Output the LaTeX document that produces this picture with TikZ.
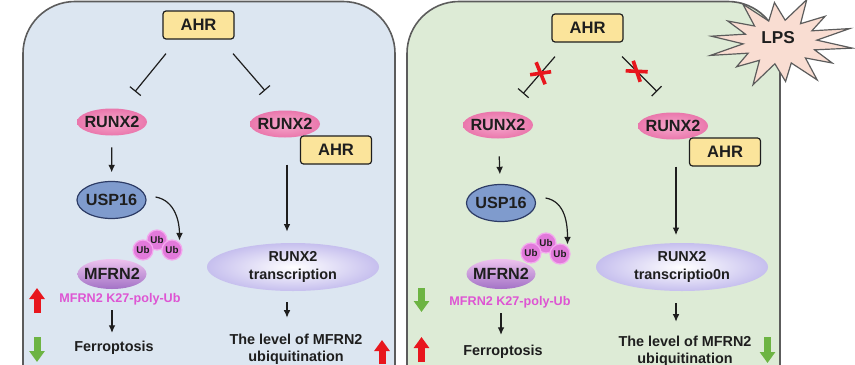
\documentclass[tikz,border=0pt]{standalone}
\usepackage{fontspec}
\setmainfont{Liberation Sans}
\usetikzlibrary{arrows.meta,calc,shapes.geometric}
\definecolor{hblau}{HTML}{DCE6F1}
\definecolor{hgruen}{HTML}{DDEBD6}
\definecolor{rand}{HTML}{5C5C5C}
\definecolor{grau}{HTML}{1E1E1E}
\definecolor{gelb}{HTML}{FBE49B}
\definecolor{rosa}{HTML}{EA77AC}
\definecolor{rosal}{HTML}{F6A9CD}
\definecolor{blau}{HTML}{7F9BCD}
\definecolor{blaud}{HTML}{2D3C66}
\definecolor{lila}{HTML}{A372C6}
\definecolor{lilal}{HTML}{EDC3EE}
\definecolor{ubrosa}{HTML}{E27ADB}
\definecolor{ubrand}{HTML}{F3A8EE}
\definecolor{magentat}{HTML}{DE55D3}
\definecolor{lav}{HTML}{C6BFEE}
\definecolor{rot}{HTML}{E8161D}
\definecolor{gruen}{HTML}{6DB443}
\definecolor{sternf}{HTML}{F9DDD2}
\tikzset{
  panel/.style={draw=rand,line width=0.8pt,rounded corners=26pt},
  kasten/.style={rectangle,rounded corners=1.5pt,draw=grau,line width=0.6pt,fill=gelb,
    minimum width=35.5pt,minimum height=14pt,inner sep=0pt,text=grau,
    font=\bfseries\fontsize{8.3}{9}\selectfont},
  oval/.style={ellipse,inner xsep=-12pt,inner ysep=-6pt,text=grau,
    font=\bfseries\fontsize{8.1}{9}\selectfont},
  runx/.style={oval,inner color=rosal,outer color=rosa,minimum width=35pt,minimum height=13.5pt},
  usp/.style={oval,fill=blau,draw=blaud,line width=0.6pt,minimum width=34.5pt,minimum height=18.5pt},
  mfrn/.style={oval,top color=lilal,bottom color=lila,minimum width=34.5pt,minimum height=15pt},
  ub/.style={circle,fill=ubrosa,draw=ubrand,line width=0.6pt,minimum size=10pt,inner sep=0pt,
    text=grau,font=\bfseries\fontsize{4.9}{5}\selectfont},
  trans/.style={oval,inner color=white,outer color=lav,minimum width=86pt,minimum height=24pt,
    align=center,font=\bfseries\fontsize{7.2}{8.6}\selectfont},
  txt/.style={text=grau,align=center,inner sep=1pt,font=\bfseries\fontsize{7.2}{8.6}\selectfont},
  k27/.style={text=magentat,inner sep=1pt,font=\bfseries\fontsize{6.3}{7}\selectfont},
  pf/.style={-{Latex[length=3.8pt,width=3.4pt]},grau,line width=0.6pt},
  hemm/.style={-{Bar[width=7pt,line width=0.6pt]},grau,line width=0.6pt},
  hoch/.style={rot,line width=3.5pt,-{Triangle[length=5.5pt,width=7.5pt]}},
  runter/.style={gruen,line width=3.5pt,-{Triangle[length=5.5pt,width=7.5pt]}},
  kreuz/.style={rot,line width=1.8pt},
  sternform/.style={fill=sternf,draw=rand,line width=0.6pt,line join=miter},
}
\begin{document}
\begin{tikzpicture}[x=0.5pt,y=-0.5pt]
  \useasboundingbox (0,0) rectangle (855,364);
  \clip (0,0) rectangle (855,364);
  % panels
  \draw[panel,fill=hblau] (23,1.5) rectangle (395,420);
  \draw[panel,fill=hgruen] (407,1.5) rectangle (780,420);
  % LPS
  \coordinate (lpsm) at (780,42);
  \draw[sternform] ($(lpsm)+(8:73 and 44)$) -- ($(lpsm)+(20.857:37 and 22)$)
    \foreach \k/\f in {1/0.86,2/1,3/0.9,4/1.04,5/0.82,6/1,7/0.95,8/0.86,9/1,10/0.9,11/1.03,12/0.85,13/1}
    { -- ($(lpsm)+({\k*25.714+8}:{73*\f} and {44*\f})$) -- ($(lpsm)+({\k*25.714+20.857}:37 and 22)$) } -- cycle;
  \node[txt,font=\bfseries\fontsize{8.6}{9}\selectfont] (lps) at (778,38) {LPS};

  % left panel
  \node[kasten] (ahr1) at (198.5,25) {AHR};
  \node[runx] (runx1) at (112,122) {RUNX2};
  \node[usp] (usp1) at (111.5,200) {USP16};
  \node[mfrn] (mfrn1) at (112,274) {MFRN2};
  \node[ub] (ub1b) at (157,240) {Ub};
  \node[ub] (ub1a) at (143,250) {Ub};
  \node[ub] (ub1c) at (172,250) {Ub};
  \node[k27] (k27a) at (120,299.5) {MFRN2 K27-poly-Ub};
  \node[txt] (ferro1) at (114,348) {Ferroptosis};
  \node[runx] (runxc1) at (285,124) {RUNX2};
  \node[kasten] (ahrc1) at (336,150) {AHR};
  \node[trans] (trans1) at (293,267) {RUNX2\\transcription};
  \node[txt] (level1) at (296,349) {The level of MFRN2\\ubiquitination};
  \draw[hemm] ($(ahr1.south)+(-32.5,14)$) -- ($(runx1.north)+(23,-16.5)$);
  \draw[hemm] ($(ahr1.south)+(34.5,14)$) -- ($(runxc1.north)+(-20,-19.5)$);
  \draw[pf,shorten <=5.75pt,shorten >=4.25pt] (runx1) -- (usp1);
  \draw[pf,shorten >=1pt] ($(usp1.east)+(9,-3)$) to[out=-10,in=90] (ub1c.north east);
  \draw[pf,shorten <=1.3pt,shorten >=3pt] (mfrn1 |- k27a.south) -- (mfrn1 |- ferro1.north);
  \draw[pf,shorten >=5.5pt] ([xshift=1pt]runxc1 |- ahrc1.south) -- ([xshift=1pt]runxc1 |- trans1.north);
  \draw[pf,shorten <=5.5pt,shorten >=6.8pt] ([xshift=1pt]runxc1 |- trans1.south) -- ([xshift=1pt]runxc1 |- level1.north);
  \draw[hoch] (37,313) -- (37,288);
  \draw[runter] (37,337) -- (37,362);
  \draw[hoch] (382,364) -- (382,340);

  % right panel
  \node[kasten] (ahr2) at (587.5,28) {AHR};
  \node[runx] (runx2) at (498,125) {RUNX2};
  \node[usp] (usp2) at (501,203) {USP16};
  \node[mfrn] (mfrn2) at (501,274) {MFRN2};
  \node[ub] (ub2b) at (546,243) {Ub};
  \node[ub] (ub2a) at (531,253) {Ub};
  \node[ub] (ub2c) at (560,254) {Ub};
  \node[k27] (k27b) at (510,302) {MFRN2 K27-poly-Ub};
  \node[txt] (ferro2) at (503,352) {Ferroptosis};
  \node[runx] (runxc2) at (673,126) {RUNX2};
  \node[kasten] (ahrc2) at (725,152) {AHR};
  \node[trans] (trans2) at (682,267) {RUNX2\\transcriptio0n};
  \node[txt] (level2) at (685,351) {The level of MFRN2\\ubiquitination};
  \draw[hemm] ($(ahr2.south)+(-32.5,14)$) -- coordinate[pos=0.45] (x1) ($(runx2.north)+(25,-17.5)$);
  \draw[hemm] ($(ahr2.south)+(34.5,14)$) -- coordinate[pos=0.42] (x2) ($(runxc2.north)+(-16,-20.5)$);
  \draw[kreuz] ($(x1)+(-4.5,-11)$) -- ($(x1)+(4.5,11)$) ($(x1)+(-10.5,1.5)$) -- ($(x1)+(10.5,-1.5)$);
  \draw[kreuz] ($(x2)+(-3.5,-10.5)$) -- ($(x2)+(3.5,10.5)$) ($(x2)+(-11,-0.5)$) -- ($(x2)+(11,0.5)$);
  \draw[pf,shorten <=8.75pt,shorten >=4.75pt] (runx2) -- (usp2);
  \draw[pf,shorten >=1pt] ($(usp2.east)+(9.5,-5)$) to[out=-10,in=90] (ub2c.north east);
  \draw[pf,shorten <=1.5pt,shorten >=4pt] (mfrn2 |- k27b.south) -- (mfrn2 |- ferro2.north);
  \draw[pf,shorten >=3.75pt] ([xshift=1.5pt]runxc2 |- ahrc2.south) -- ([xshift=1.5pt]runxc2 |- trans2.north);
  \draw[pf,shorten <=6pt,shorten >=5.8pt] ([xshift=1.5pt]runxc2 |- trans2.south) -- ([xshift=1.5pt]runxc2 |- level2.north);
  \draw[runter] (421.5,288) -- (421.5,312);
  \draw[hoch] (421.5,362) -- (421.5,337);
  \draw[runter] (767.5,337) -- (767.5,363);
\end{tikzpicture}
\end{document}
